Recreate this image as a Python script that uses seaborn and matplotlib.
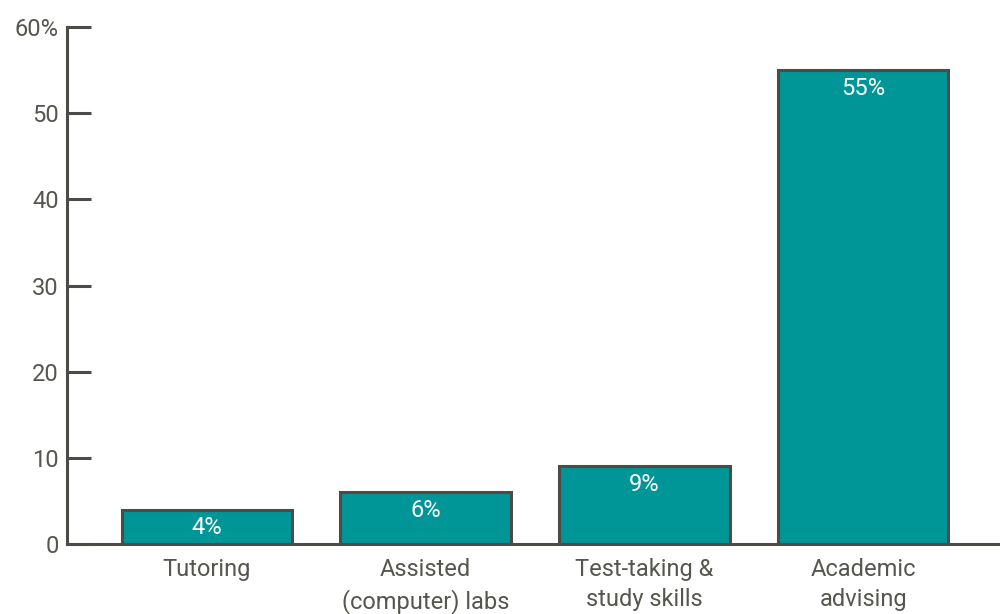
import matplotlib
matplotlib.use('Agg')
import matplotlib.pyplot as plt
import pandas as pd
import seaborn as sb

# Chart data
categories = ['Tutoring', 'Assisted\n(computer) labs', 'Test-taking &\nstudy skills', 'Academic\nadvising']
values = [4, 6, 9, 55]
yticks = [0, 10, 20, 30, 40, 50, 60]
yticklabels = ['0', '10', '20', '30', '40', '50', '60%']

TEAL = '#009597'
EDGE = '#4b4b47'
TEXT = '#56564f'

sb.set_style('white')
plt.rcParams['font.family'] = ['Roboto', 'DejaVu Sans']

data = pd.DataFrame({'category': categories, 'value': values})

figure = plt.figure(figsize=(10, 6.14), dpi=100)
axis = figure.add_axes([0.067, 0.114, 0.933, 0.842])
sb.barplot(data=data, x='category', y='value', color=TEAL, saturation=1,
           width=0.78, edgecolor=EDGE, linewidth=2.2, ax=axis)

# Value labels inside the top of each bar
for ndx, value in enumerate(values):
    axis.annotate('{}%'.format(value), (ndx, value), textcoords='offset points',
                  xytext=(0, -5), ha='center', va='top', color='white', fontsize=17)

# Axis formatting
axis.set_xlim(-0.64, 3.626)
axis.set_ylim(0, 60)
axis.set_yticks(yticks)
axis.set_yticklabels(yticklabels)
axis.set_xlabel('')
axis.set_ylabel('')
sb.despine(ax=axis, top=True, right=True)
for side in ['left', 'bottom']:
    axis.spines[side].set_color(EDGE)
    axis.spines[side].set_linewidth(2.2)
axis.tick_params(axis='y', direction='in', length=17, width=2.2, color=EDGE,
                 labelcolor=TEXT, labelsize=17, pad=6, left=True)
axis.tick_params(axis='x', length=0, labelcolor=TEXT, labelsize=17, pad=10)
for label in axis.get_xticklabels():
    label.set_linespacing(1.4)

plt.savefig('out.png', dpi=100)
plt.close()
